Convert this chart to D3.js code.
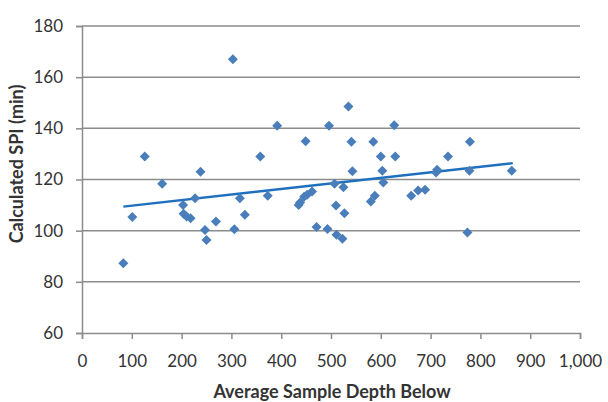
<!DOCTYPE html>
<html>
<head>
<meta charset="utf-8">
<script src="https://cdn.jsdelivr.net/npm/d3@7"></script>
<style>
  body { margin: 0; background: #fff; }
  text { font-family: Lato, "Open Sans", sans-serif; fill: #333; }
</style>
</head>
<body>
<div id="container"></div>
<script>
// sample depth (x) and calculated SPI (y)
var depth = [83, 101, 126, 161, 203, 204, 210, 218, 227, 238, 247, 250, 269, 303,
    306, 317, 327, 358, 373, 392, 435, 438, 446, 449, 452, 462, 471, 493, 496,
    507, 510, 511, 523, 525, 527, 535, 541, 543, 580, 585, 588, 600, 603, 605,
    627, 629, 661, 675, 689, 711, 713, 735, 774, 778, 779, 863];
var spi = [87.3, 105.3, 129, 118.3, 110, 106.6, 105.5, 104.9, 112.7, 123, 100.3, 96.4,
    103.6, 167, 100.6, 112.7, 106.2, 129, 113.6, 141, 110, 111, 113.3, 135, 114,
    115.3, 101.4, 100.7, 141, 118.3, 109.8, 98.4, 96.8, 117, 106.8, 148.5, 134.8,
    123.2, 111.4, 134.8, 113.6, 129, 123.4, 118.8, 141.2, 129, 113.6, 115.7, 116,
    122.7, 123.8, 129, 99.3, 123.4, 134.8, 123.4];

// linear trend line end points
var trendX = [83, 865];
var trendY = [109.4, 126.4];

var xTicks = [0, 100, 200, 300, 400, 500, 600, 700, 800, 900, 1000];
var yTicks = [60, 80, 100, 120, 140, 160, 180];

var drawChart = function () {
    var svg = d3.select("#container")
        .append("svg")
        .attr("width", 608)
        .attr("height", 402);

    var x = d3.scaleLinear().domain([0, 1000]).range([82, 580]);
    var y = d3.scaleLinear().domain([60, 180]).range([333, 26]);

    // horizontal gridlines
    svg.selectAll(".grid")
        .data(yTicks.slice(1))
        .enter().append("line")
        .attr("x1", 82)
        .attr("x2", 580)
        .attr("y1", function (d) { return y(d); })
        .attr("y2", function (d) { return y(d); })
        .attr("stroke", "#8c8c8c")
        .attr("stroke-width", 1.5);

    var yAxis = svg.append("g")
        .attr("transform", "translate(82,0)")
        .call(d3.axisLeft(y).tickValues(yTicks).tickSize(6).tickPadding(13));

    var xAxis = svg.append("g")
        .attr("transform", "translate(0,333)")
        .call(d3.axisBottom(x).tickValues(xTicks).tickSize(6).tickPadding(16)
            .tickFormat(d3.format(",")));

    [xAxis, yAxis].forEach(function (g) {
        g.select(".domain").attr("stroke", "#8c8c8c").attr("stroke-width", 1.5);
        g.selectAll(".tick line").attr("stroke", "#8c8c8c").attr("stroke-width", 1.5);
        g.selectAll(".tick text")
            .style("font-family", "Lato, 'Open Sans', sans-serif")
            .style("font-size", "17px")
            .attr("fill", "#333");
    });

    // trend line
    svg.append("line")
        .attr("x1", x(trendX[0]))
        .attr("y1", y(trendY[0]))
        .attr("x2", x(trendX[1]))
        .attr("y2", y(trendY[1]))
        .attr("stroke", "#1f6fbf")
        .attr("stroke-width", 2.5);

    // diamond markers
    svg.selectAll(".pt")
        .data(depth)
        .enter().append("path")
        .attr("d", "M0,-5L5,0L0,5L-5,0Z")
        .attr("transform", function (d, i) {
            return "translate(" + x(d) + "," + y(spi[i]) + ")";
        })
        .attr("fill", "#4a7ebb");

    svg.append("text")
        .attr("x", 332)
        .attr("y", 398)
        .attr("text-anchor", "middle")
        .style("font-size", "18px")
        .style("font-weight", "bold")
        .text("Average Sample Depth Below");

    svg.append("text")
        .attr("transform", "translate(23,164) rotate(-90)")
        .attr("text-anchor", "middle")
        .style("font-size", "18px")
        .style("font-weight", "bold")
        .text("Calculated SPI (min)");
};

window.onload = drawChart;
</script>
</body>
</html>
